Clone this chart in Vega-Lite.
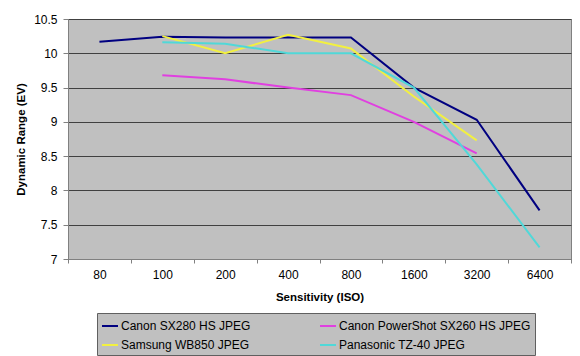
{
  "$schema": "https://vega.github.io/schema/vega-lite/v6.json",
  "autosize": {"type": "none"},
  "width": 503,
  "height": 240,
  "padding": {"left": 68, "top": 19, "right": 9, "bottom": 97},
  "background": "white",
  "config": {
    "font": "Liberation Sans",
    "view": {"fill": "#C0C0C0", "stroke": "#808080", "strokeWidth": 1}
  },
  "data": {
    "values": [
      {"camera": "Canon SX280 HS JPEG", "iso": "80", "dr": 10.17},
      {"camera": "Canon SX280 HS JPEG", "iso": "100", "dr": 10.24},
      {"camera": "Canon SX280 HS JPEG", "iso": "200", "dr": 10.23},
      {"camera": "Canon SX280 HS JPEG", "iso": "400", "dr": 10.23},
      {"camera": "Canon SX280 HS JPEG", "iso": "800", "dr": 10.23},
      {"camera": "Canon SX280 HS JPEG", "iso": "1600", "dr": 9.5},
      {"camera": "Canon SX280 HS JPEG", "iso": "3200", "dr": 9.03},
      {"camera": "Canon SX280 HS JPEG", "iso": "6400", "dr": 7.71},
      {"camera": "Canon PowerShot SX260 HS JPEG", "iso": "100", "dr": 9.68},
      {"camera": "Canon PowerShot SX260 HS JPEG", "iso": "200", "dr": 9.62},
      {"camera": "Canon PowerShot SX260 HS JPEG", "iso": "400", "dr": 9.5},
      {"camera": "Canon PowerShot SX260 HS JPEG", "iso": "800", "dr": 9.39},
      {"camera": "Canon PowerShot SX260 HS JPEG", "iso": "1600", "dr": 9.0},
      {"camera": "Canon PowerShot SX260 HS JPEG", "iso": "3200", "dr": 8.54},
      {"camera": "Samsung WB850 JPEG", "iso": "100", "dr": 10.25},
      {"camera": "Samsung WB850 JPEG", "iso": "200", "dr": 10.0},
      {"camera": "Samsung WB850 JPEG", "iso": "400", "dr": 10.27},
      {"camera": "Samsung WB850 JPEG", "iso": "800", "dr": 10.07},
      {"camera": "Samsung WB850 JPEG", "iso": "1600", "dr": 9.37},
      {"camera": "Samsung WB850 JPEG", "iso": "3200", "dr": 8.73},
      {"camera": "Panasonic TZ-40 JPEG", "iso": "100", "dr": 10.16},
      {"camera": "Panasonic TZ-40 JPEG", "iso": "200", "dr": 10.14},
      {"camera": "Panasonic TZ-40 JPEG", "iso": "400", "dr": 10.0},
      {"camera": "Panasonic TZ-40 JPEG", "iso": "800", "dr": 10.0},
      {"camera": "Panasonic TZ-40 JPEG", "iso": "1600", "dr": 9.5},
      {"camera": "Panasonic TZ-40 JPEG", "iso": "3200", "dr": 8.38},
      {"camera": "Panasonic TZ-40 JPEG", "iso": "6400", "dr": 7.17}
    ]
  },
  "mark": {"type": "line", "strokeWidth": 2},
  "encoding": {
    "x": {
      "field": "iso",
      "type": "ordinal",
      "sort": ["80", "100", "200", "400", "800", "1600", "3200", "6400"],
      "scale": {"type": "band", "paddingInner": 0, "paddingOuter": 0},
      "axis": {
        "title": "Sensitivity (ISO)",
        "titleFontSize": 11.5,
        "titleFontWeight": "bold",
        "titleColor": "black",
        "titlePadding": 11,
        "labelAngle": 0,
        "labelFontSize": 12,
        "labelColor": "black",
        "labelPadding": 6,
        "tickBand": "extent",
        "tickSize": 4,
        "tickColor": "#808080",
        "domainColor": "#808080",
        "grid": false
      }
    },
    "y": {
      "field": "dr",
      "type": "quantitative",
      "scale": {"domain": [7, 10.5], "nice": false, "zero": false},
      "axis": {
        "title": "Dynamic Range (EV)",
        "titleFontSize": 11.5,
        "titleFontWeight": "bold",
        "titleColor": "black",
        "titlePadding": 7,
        "values": [7, 7.5, 8, 8.5, 9, 9.5, 10, 10.5],
        "format": ".1~f",
        "labelFontSize": 12,
        "labelColor": "black",
        "labelPadding": 6,
        "tickSize": 5,
        "tickColor": "#808080",
        "domainColor": "#808080",
        "grid": true,
        "gridColor": "#404040",
        "gridWidth": 1
      }
    },
    "color": {
      "field": "camera",
      "type": "nominal",
      "scale": {
        "domain": ["Canon SX280 HS JPEG", "Canon PowerShot SX260 HS JPEG", "Samsung WB850 JPEG", "Panasonic TZ-40 JPEG"],
        "range": ["#000080", "#E040E0", "#F2F040", "#50D8D8"]
      },
      "legend": {
        "title": null,
        "orient": "none",
        "legendX": 29,
        "legendY": 294,
        "direction": "horizontal",
        "columns": 2,
        "columnPadding": 65,
        "rowPadding": 4,
        "symbolType": "stroke",
        "symbolSize": 256,
        "symbolStrokeWidth": 2,
        "labelFontSize": 12,
        "labelColor": "black",
        "labelOffset": 2,
        "labelLimit": 300,
        "padding": 4,
        "strokeColor": "#606060",
        "fillColor": "#C0C0C0"
      }
    }
  }
}
